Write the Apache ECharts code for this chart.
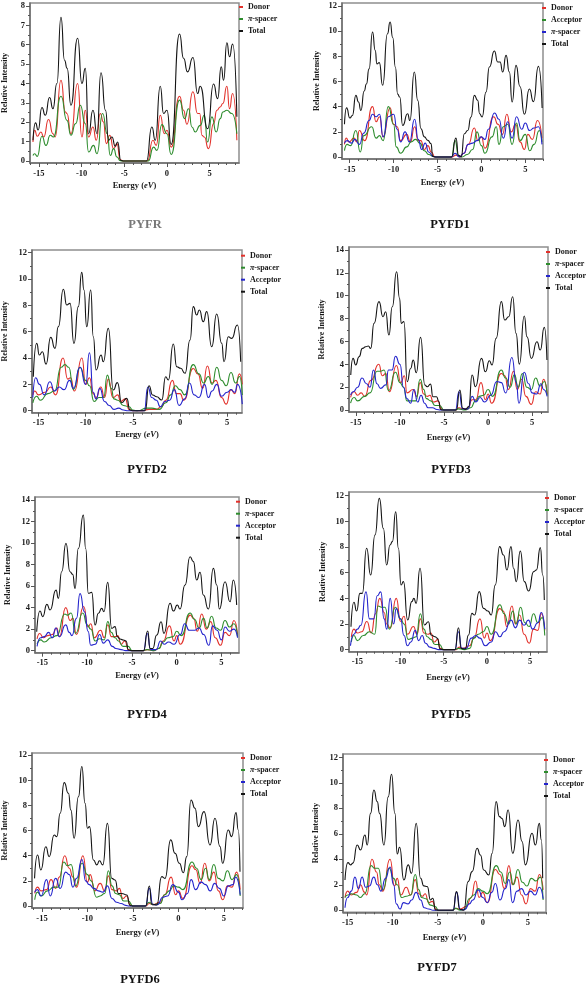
<!DOCTYPE html>
<html><head><meta charset="utf-8">
<script src="https://cdn.jsdelivr.net/npm/echarts@6/dist/echarts.min.js"></script>
<style>html,body{margin:0;padding:0;background:#fff}#c{width:587px;height:987px}</style>
</head><body><div id="c"></div><script>
// ---------- DATA (energy eV, relative intensity) ----------
const panelTitles = ['PYFR','PYFD1','PYFD2','PYFD3','PYFD4','PYFD5','PYFD6','PYFD7'];
const xTicks = [-15,-10,-5,0,5];
const xMinorTicks = [-16,-14,-13,-12,-11,-9,-8,-7,-6,-4,-3,-2,-1,1,2,3,4,6,7,8];
const yTicks8 = [0,1,2,3,4,5,6,7,8];
const yTicks12 = [0,2,4,6,8,10,12];
const yTicks14 = [0,2,4,6,8,10,12,14];

const PYFR_total = [[-15.7,1.07],[-15.4,1.97],[-15.1,1.6],[-14.65,2.76],[-14.26,2.36],[-13.75,3.28],[-13.36,2.7],[-12.9,4.0],[-12.42,7.41],[-12.0,5.2],[-11.7,4.78],[-11.25,2.88],[-10.47,6.33],[-9.96,4.0],[-9.57,4.78],[-9.18,1.41],[-8.67,2.62],[-8.2,1.41],[-7.73,4.55],[-7.2,2.62],[-6.84,1.07],[-6.45,1.24],[-6.05,0.76],[-5.78,0.98],[-5.4,0.03],[-5.0,0],[-2.4,0],[-1.76,1.76],[-1.37,1.07],[-0.78,3.86],[-0.39,2.45],[0,2.62],[0.5,0.86],[1.48,6.55],[1.95,5.3],[2.42,4.6],[3.05,5.34],[3.6,3.48],[3.9,3.86],[4.77,1.67],[5.47,3.97],[5.94,3.22],[6.37,4.86],[6.64,4.17],[7.03,6.1],[7.34,5.38],[7.7,6.03],[8.2,2.28]];
const PYFR_donor = [[-15.7,0.98],[-15.5,1.59],[-15.2,1.28],[-14.77,1.5],[-14.45,1.24],[-13.87,2.14],[-13.36,1.41],[-13.1,1.24],[-12.42,4.17],[-11.9,2.53],[-11.72,2.45],[-11.25,1.41],[-10.47,4.0],[-9.96,1.24],[-9.57,2.62],[-9.18,1.24],[-8.67,1.76],[-8.28,1.07],[-7.81,2.45],[-7.45,2.02],[-7.1,0.9],[-6.7,1.33],[-6.25,0.64],[-5.86,0.9],[-5.47,0.07],[-5.1,0],[-2.3,0],[-1.64,1.07],[-1.25,0.81],[-0.78,2.36],[-0.3,1.41],[0,1.59],[0.5,0.72],[1.48,3.34],[1.95,2.62],[2.34,1.9],[3.05,3.57],[3.6,2.45],[3.85,2.45],[4.1,1.33],[4.38,1.24],[4.88,0.64],[5.47,1.93],[5.86,2.62],[6.25,2.79],[6.56,2.97],[7.03,3.86],[7.34,2.7],[7.7,3.48],[8.2,1.07]];
const PYFR_spacer = [[-15.7,0.29],[-15.5,0.38],[-15.2,0.24],[-14.65,1.28],[-14.18,0.81],[-13.67,1.33],[-13.3,1.24],[-12.42,3.34],[-11.72,2.1],[-11.25,1.33],[-10.7,1.93],[-10.16,2.88],[-9.57,1.93],[-9.18,0.47],[-8.6,0.81],[-8.2,0.38],[-7.54,2.45],[-7.0,1.41],[-6.64,0.29],[-6.25,0.64],[-5.86,0.21],[-5.47,0.02],[-5.1,0],[-2.2,0],[-1.56,0.72],[-1.17,0.55],[-0.59,1.88],[0,1.41],[0.5,0.34],[1.48,3.14],[2.07,2.19],[2.54,2.7],[2.93,1.76],[3.32,1.5],[3.9,1.84],[4.38,2.36],[4.77,0.98],[5.27,2.28],[5.78,1.5],[6.25,2.19],[6.56,2.53],[7.03,2.62],[7.6,2.45],[8.2,1.41]];

const PYFD1_total = [[-15.6,2.6],[-15.36,3.9],[-14.98,3.1],[-14.7,3.3],[-14.3,4.9],[-14.0,4.37],[-13.73,3.7],[-13.35,5.24],[-13.1,5.8],[-12.8,7.0],[-12.4,9.93],[-12.1,8.48],[-11.9,7.4],[-11.63,7.5],[-11.25,5.7],[-10.7,9.8],[-10.4,10.73],[-10.1,9.5],[-9.8,7.15],[-9.54,5.0],[-9.3,4.77],[-8.97,2.5],[-8.4,3.44],[-8.15,2.9],[-7.64,6.75],[-7.25,4.5],[-6.88,2.25],[-6.5,1.6],[-6.1,1.32],[-5.74,1.06],[-5.55,0.05],[-5.2,0],[-3.4,0],[-2.9,1.5],[-2.6,0.13],[-2.3,0],[-1.94,1.85],[-1.56,2.1],[-1.18,3.18],[-0.8,4.9],[-0.42,4.5],[-0.2,3.44],[0.08,3.18],[0.53,5.17],[0.91,7.15],[1.48,8.42],[1.86,7.55],[2.13,7.55],[2.43,6.75],[2.81,8.08],[3.19,6.75],[3.5,4.37],[3.95,7.28],[4.4,5.6],[4.9,3.4],[5.47,5.4],[5.93,4.4],[6.5,7.2],[6.92,3.9]];
const PYFD1_donor = [[-15.6,1.0],[-15.4,1.5],[-15.1,1.2],[-14.5,1.5],[-14.2,1.2],[-13.9,2.1],[-13.3,1.3],[-12.4,4.0],[-12.0,2.8],[-11.6,3.2],[-11.2,1.6],[-10.4,3.9],[-10.0,2.6],[-9.6,2.4],[-9.2,1.3],[-8.5,1.8],[-8.1,1.2],[-7.6,2.4],[-7.2,1.3],[-6.9,1.3],[-6.5,0.6],[-6.1,0.9],[-5.7,0.4],[-5.3,0],[-3.3,0],[-2.9,0.15],[-2.5,0],[-2.0,0.3],[-1.5,1.0],[-0.8,2.3],[-0.4,1.3],[0,1.6],[0.4,0.7],[1.4,3.2],[1.9,2.6],[2.4,1.8],[2.9,3.4],[3.4,2.0],[3.9,2.6],[4.4,1.2],[4.9,0.6],[5.3,1.8],[5.8,1.4],[6.4,2.9],[6.9,1.5]];
const PYFD1_acceptor = [[-15.6,0.5],[-15.3,1.0],[-14.9,0.9],[-14.3,2.1],[-13.8,0.4],[-13.4,1.7],[-12.5,2.4],[-12.0,1.5],[-11.6,1.7],[-11.2,1.3],[-10.6,4.0],[-10.0,2.6],[-9.7,0.8],[-9.2,0.3],[-8.5,0.8],[-8.0,1.2],[-7.5,1.4],[-7.0,1.1],[-6.5,0.5],[-6.0,0.2],[-5.5,0.05],[-5.0,0],[-3.4,0],[-3.0,1.3],[-2.6,0.1],[-2.2,0],[-1.6,0.2],[-1.0,0.6],[-0.5,2.0],[0,0.9],[0.4,0.3],[1.2,1.6],[1.7,2.4],[2.0,1.0],[2.5,2.4],[3.0,2.6],[3.5,1.0],[4.0,2.7],[4.4,1.3],[5.0,1.8],[5.5,0.5],[6.0,1.0],[6.6,2.1],[6.9,1.2]];
const PYFD1_spacer = [[-15.6,1.1],[-15.3,1.3],[-14.8,1.1],[-14.4,1.4],[-13.9,1.0],[-13.4,1.9],[-12.8,2.9],[-12.4,3.4],[-12.0,3.2],[-11.6,3.4],[-11.2,1.6],[-10.6,3.2],[-10.0,3.4],[-9.6,2.2],[-9.2,1.2],[-8.7,2.0],[-8.2,1.2],[-7.6,3.0],[-7.2,1.4],[-6.8,0.6],[-6.4,1.1],[-6.0,0.4],[-5.5,0.05],[-5.1,0],[-3.4,0],[-3.0,0.3],[-2.5,0],[-2.0,0.3],[-1.5,1.0],[-1.0,1.1],[-0.5,1.3],[0,1.6],[0.4,1.4],[0.8,2.2],[1.5,3.5],[2.0,3.0],[2.5,1.5],[3.0,2.8],[3.5,1.5],[4.0,3.2],[4.6,2.2],[5.0,2.7],[5.5,2.1],[6.0,2.3],[6.5,2.4],[6.9,1.0]];

const PYFD2_total = [[-15.55,2.58],[-15.19,5.11],[-14.91,4.23],[-14.59,4.48],[-14.2,3.54],[-13.71,5.57],[-13.25,4.73],[-12.9,6.38],[-12.37,9.22],[-12.01,8.03],[-11.66,8.15],[-11.24,5.11],[-10.78,7.9],[-10.42,10.5],[-10.18,9.16],[-9.89,6.38],[-9.47,9.16],[-9.19,5.62],[-8.9,3.09],[-8.37,4.23],[-8.13,3.72],[-7.6,6.25],[-7.07,1.57],[-6.64,2.13],[-6.18,0.61],[-5.65,0.94],[-5.3,0.05],[-5.0,0],[-3.7,0],[-3.29,1.9],[-2.9,1.19],[-2.47,1.06],[-1.94,0.81],[-1.52,2.58],[-1.24,2.33],[-0.71,5.06],[-0.35,3.34],[0.07,3.22],[0.53,2.84],[1.06,5.37],[1.41,7.9],[1.77,7.27],[2.05,7.65],[2.47,6.76],[2.83,7.52],[3.36,4.86],[3.89,7.34],[4.42,5.11],[4.66,3.72],[5.12,5.62],[5.48,5.49],[6.08,6.51],[6.43,3.72]];
const PYFD2_donor = [[-15.6,1.2],[-15.4,1.5],[-15.0,1.2],[-14.3,1.4],[-13.7,1.8],[-13.2,1.2],[-12.4,4.0],[-11.9,2.4],[-11.6,2.5],[-11.2,1.5],[-10.4,4.0],[-10.0,2.0],[-9.6,2.5],[-9.2,1.3],[-8.9,1.0],[-8.4,1.8],[-8.0,1.0],[-7.6,2.4],[-7.1,1.0],[-6.6,1.2],[-6.3,0.7],[-5.8,0.9],[-5.4,0.1],[-5.0,0],[-4.0,0],[-3.3,0.1],[-2.5,0.1],[-2.0,0.3],[-1.5,0.8],[-0.8,2.3],[-0.4,1.3],[0,1.3],[0.4,0.8],[1.4,3.2],[1.9,2.8],[2.4,1.7],[2.9,3.4],[3.4,2.1],[3.8,2.3],[4.4,1.0],[4.9,0.5],[5.4,1.6],[5.8,1.3],[6.3,2.8],[6.6,2.0]];
const PYFD2_spacer = [[-15.6,0.6],[-15.2,1.1],[-14.8,0.8],[-14.0,1.3],[-13.3,1.5],[-12.6,3.3],[-12.2,3.5],[-11.8,3.3],[-11.3,1.6],[-10.6,3.3],[-10.0,2.3],[-9.6,1.9],[-9.1,0.7],[-8.6,1.0],[-8.1,1.0],[-7.7,2.7],[-7.3,1.7],[-7.0,0.9],[-6.6,0.8],[-6.0,0.4],[-5.4,0.3],[-5.0,0.05],[-4.5,0],[-3.5,0.2],[-3.0,0.2],[-2.2,0.1],[-1.5,0.6],[-1.0,1.2],[-0.5,1.9],[0,1.6],[0.5,1.2],[1.4,3.5],[2.0,2.8],[2.5,2.1],[3.0,2.6],[3.4,2.0],[3.9,3.3],[4.4,2.3],[4.9,1.9],[5.4,2.9],[5.9,2.1],[6.3,2.6],[6.6,1.2]];
const PYFD2_acceptor = [[-15.6,1.0],[-15.3,2.5],[-14.9,2.0],[-14.4,1.2],[-13.8,2.2],[-13.3,1.5],[-12.8,1.8],[-12.3,1.6],[-11.7,2.3],[-11.3,1.7],[-10.6,3.3],[-10.0,2.0],[-9.6,4.4],[-9.2,1.4],[-8.9,0.9],[-8.5,1.7],[-8.0,0.7],[-7.5,0.4],[-7.0,0.1],[-6.5,0.2],[-6.0,0.05],[-5.5,0],[-3.8,0],[-3.4,1.8],[-3.0,1.0],[-2.5,0.8],[-2.1,0.3],[-1.6,0.7],[-1.1,0.8],[-0.6,1.6],[-0.1,0.4],[0.5,0.9],[1.0,2.1],[1.5,1.2],[2.0,1.0],[2.6,2.0],[3.0,1.0],[3.4,1.5],[3.9,2.0],[4.4,1.1],[5.0,1.4],[5.4,1.6],[5.8,1.4],[6.1,2.0],[6.6,0.5]];

const PYFD3_total = [[-15.58,3.06],[-15.32,4.52],[-15.02,3.94],[-14.64,4.66],[-14.26,5.39],[-13.89,5.54],[-13.58,5.6],[-13.32,5.39],[-12.94,7.58],[-12.38,9.48],[-11.92,8.16],[-11.62,8.6],[-11.25,6.56],[-10.87,9.04],[-10.38,12.1],[-10.04,9.77],[-9.85,7.58],[-9.55,7.73],[-9.17,2.48],[-8.79,3.64],[-8.49,4.37],[-8.15,3.27],[-7.66,6.36],[-7.17,2.19],[-6.91,2.04],[-6.53,2.27],[-6.26,1.17],[-5.85,1.17],[-5.58,0.73],[-5.4,0.06],[-5.2,0],[-3.6,0],[-3.21,1.75],[-2.87,0.15],[-2.57,0.06],[-2.19,0.3],[-1.81,3.06],[-1.43,2.04],[-0.75,4.52],[-0.3,3.35],[0.15,4.31],[0.45,3.94],[0.91,6.27],[1.51,9.48],[1.89,7.87],[2.34,8.16],[2.79,9.91],[3.17,6.71],[3.55,4.02],[4.11,8.22],[4.42,6.41],[4.91,4.52],[5.55,5.98],[5.92,5.25],[6.38,7.23],[6.68,4.37]];
const PYFD3_donor = [[-15.6,1.1],[-15.2,1.6],[-14.8,1.3],[-14.4,1.5],[-14.0,1.2],[-13.3,2.6],[-12.4,4.0],[-12.0,3.0],[-11.6,3.2],[-11.2,1.6],[-10.4,3.9],[-9.9,2.4],[-9.5,3.0],[-9.2,1.5],[-8.5,1.8],[-8.1,1.2],[-7.7,2.4],[-7.3,1.4],[-6.9,1.2],[-6.6,1.3],[-6.2,0.7],[-5.7,0.8],[-5.3,0.1],[-5.0,0],[-3.7,0],[-3.3,0.2],[-2.8,0.1],[-2.3,0.1],[-1.8,0.9],[-1.4,0.9],[-0.8,2.4],[-0.3,0.9],[0,1.4],[0.4,0.6],[1.5,3.2],[1.9,3.0],[2.3,1.8],[2.9,3.4],[3.3,1.8],[3.8,2.7],[4.3,1.2],[4.9,0.5],[5.4,1.6],[5.9,1.4],[6.3,2.7],[6.7,1.4]];
const PYFD3_spacer = [[-15.6,0.6],[-15.2,1.1],[-14.8,0.8],[-14.0,1.2],[-13.4,1.5],[-12.6,3.4],[-12.2,3.4],[-11.8,3.5],[-11.3,1.7],[-10.5,3.3],[-10.0,2.4],[-9.6,2.0],[-9.2,0.8],[-8.7,0.8],[-8.2,0.8],[-7.7,2.7],[-7.3,1.8],[-7.0,1.0],[-6.5,0.8],[-6.0,0.4],[-5.5,0.4],[-5.0,0],[-3.8,0],[-3.4,0.1],[-2.6,0],[-2.0,0.2],[-1.4,0.8],[-1.0,1.2],[-0.5,1.3],[0,1.8],[0.5,1.2],[1.5,3.5],[2.0,2.8],[2.5,2.0],[3.0,3.1],[3.4,2.0],[3.9,3.2],[4.4,2.0],[4.9,1.8],[5.4,2.8],[5.9,2.1],[6.4,2.5],[6.7,1.3]];
const PYFD3_acceptor = [[-15.6,1.3],[-15.3,1.6],[-14.8,2.0],[-14.3,2.8],[-13.8,2.3],[-13.4,2.0],[-13.0,3.5],[-12.6,2.3],[-12.2,1.9],[-11.6,2.2],[-11.3,3.5],[-10.9,3.5],[-10.5,4.7],[-10.0,4.0],[-9.6,2.0],[-9.2,1.0],[-8.8,0.6],[-8.4,1.8],[-8.0,0.7],[-7.6,1.3],[-7.2,0.6],[-6.8,0.2],[-6.3,0.2],[-5.8,0.05],[-5.4,0],[-3.7,0],[-3.3,1.6],[-2.9,0.1],[-2.3,0.1],[-1.8,1.2],[-1.4,0.7],[-0.9,1.1],[-0.4,0.7],[0.3,1.3],[1.0,2.5],[1.5,2.4],[2.0,1.5],[2.7,4.6],[3.2,2.4],[3.5,0.6],[4.1,3.3],[4.6,2.3],[5.0,1.5],[5.5,1.4],[6.0,2.3],[6.3,1.8],[6.7,1.2]];

const PYFD4_total = [[-15.64,1.76],[-15.27,3.68],[-14.97,3.16],[-14.5,4.3],[-14.15,3.78],[-13.48,5.63],[-13.22,4.86],[-12.85,7.34],[-12.37,9.97],[-11.92,7.34],[-11.62,7.09],[-11.36,5.79],[-10.99,9.5],[-10.43,12.6],[-10.17,9.5],[-9.87,5.33],[-9.5,5.42],[-9.12,2.38],[-8.75,3.47],[-8.38,3.93],[-8.12,3.62],[-7.71,6.35],[-7.26,2.07],[-6.89,2.23],[-6.63,1.3],[-6.33,1.08],[-5.96,0.99],[-5.66,0.9],[-5.4,0.06],[-5.1,0],[-3.7,0],[-3.24,1.83],[-2.98,0.2],[-2.68,0.2],[-2.23,1.45],[-1.75,2.69],[-1.42,1.61],[-0.74,4.4],[-0.37,3.68],[0.07,4.24],[0.37,3.87],[0.93,6.1],[1.49,8.73],[1.86,8.27],[2.23,6.56],[2.61,7.28],[2.98,5.17],[3.54,3.87],[4.1,7.65],[4.47,6.1],[4.77,3.87],[5.4,6.41],[5.96,4.55],[6.33,6.56],[6.7,4.24]];
const PYFD4_donor = [[-15.6,1.1],[-15.3,1.6],[-14.9,1.2],[-14.4,1.4],[-13.9,1.5],[-13.4,2.1],[-13.1,1.3],[-12.4,4.0],[-11.9,2.8],[-11.6,3.0],[-11.2,1.5],[-10.4,4.1],[-9.9,2.2],[-9.6,2.5],[-9.2,1.2],[-8.5,1.9],[-8.1,1.2],[-7.7,2.4],[-7.3,1.3],[-6.8,1.3],[-6.6,1.4],[-6.2,0.6],[-5.8,0.9],[-5.4,0.1],[-5.0,0],[-3.7,0],[-3.3,0.1],[-2.6,0],[-2.0,0.2],[-1.5,0.9],[-0.8,2.3],[-0.3,0.9],[0,1.4],[0.4,0.6],[1.5,3.3],[1.9,3.0],[2.3,1.8],[2.8,3.4],[3.3,2.0],[3.8,2.7],[4.3,1.2],[4.9,0.5],[5.4,1.7],[5.9,1.4],[6.4,2.8],[6.8,1.5]];
const PYFD4_spacer = [[-15.6,0.6],[-15.2,1.0],[-14.8,0.8],[-14.0,1.2],[-13.4,1.4],[-12.5,3.4],[-12.2,3.3],[-11.8,3.5],[-11.3,1.6],[-10.5,3.5],[-10.0,2.4],[-9.6,2.0],[-9.1,0.9],[-8.6,1.1],[-8.1,1.0],[-7.7,2.7],[-7.3,1.7],[-6.9,1.2],[-6.5,0.9],[-6.0,0.4],[-5.4,0.4],[-5.0,0],[-3.8,0],[-3.3,0.1],[-2.6,0],[-2.0,0.2],[-1.5,0.8],[-1.0,1.2],[-0.4,1.3],[0,1.8],[0.5,1.4],[1.5,3.5],[2.0,2.9],[2.5,2.1],[3.0,3.0],[3.4,2.1],[3.9,3.2],[4.4,2.1],[4.9,1.9],[5.4,2.8],[5.9,2.2],[6.4,2.5],[6.8,1.3]];
const PYFD4_acceptor = [[-15.6,0.4],[-15.2,1.2],[-14.8,1.3],[-14.3,1.7],[-13.9,1.2],[-13.5,2.1],[-13.1,1.3],[-12.4,2.4],[-12.0,1.7],[-11.7,1.4],[-11.2,3.0],[-10.8,5.3],[-10.3,3.6],[-9.9,1.8],[-9.6,0.5],[-9.1,0.6],[-8.6,1.5],[-8.2,0.7],[-7.7,1.0],[-7.2,0.4],[-6.8,0.2],[-6.2,0.1],[-5.7,0],[-3.7,0],[-3.3,1.6],[-2.9,0.1],[-2.3,0.1],[-1.8,0.9],[-1.4,0.6],[-0.9,0.8],[-0.3,0.6],[0.4,1.5],[0.9,2.5],[1.4,1.9],[2.0,1.9],[2.5,2.1],[3.0,1.5],[3.6,0.5],[4.0,2.3],[4.5,1.9],[5.0,1.0],[5.4,2.2],[5.9,1.8],[6.4,2.0],[6.8,1.2]];

const PYFD5_total = [[-15.74,1.79],[-15.4,3.69],[-15.09,3.01],[-14.7,4.39],[-14.43,4.39],[-13.93,7.9],[-13.46,5.82],[-12.96,8.94],[-12.46,11.79],[-11.99,9.45],[-11.61,6.6],[-11.22,8.16],[-10.95,8.42],[-10.56,10.75],[-10.25,7.9],[-9.94,5.04],[-9.67,5.3],[-9.17,2.31],[-8.7,3.74],[-8.45,4.0],[-8.2,3.61],[-7.74,6.34],[-7.23,1.92],[-6.77,2.18],[-6.46,1.14],[-6.0,1.01],[-5.73,0.88],[-5.42,0.05],[-5.1,0],[-3.7,0],[-3.29,1.71],[-2.98,0.1],[-2.51,0.05],[-2.13,1.14],[-1.74,2.83],[-1.43,2.7],[-0.89,4.52],[-0.39,3.22],[0.12,3.01],[0.5,2.7],[0.97,5.04],[1.47,8.03],[1.93,7.38],[2.32,6.21],[2.79,8.03],[3.09,6.34],[3.4,5.3],[3.87,7.69],[4.33,5.3],[4.84,4.57],[5.42,6.08],[5.73,6.21],[6.19,7.95],[6.46,5.82],[6.65,3.87]];
const PYFD5_donor = [[-15.7,1.0],[-15.4,1.6],[-15.0,1.3],[-14.5,1.4],[-13.9,2.2],[-13.4,1.3],[-12.9,2.8],[-12.4,4.0],[-11.9,2.9],[-11.6,2.0],[-11.2,1.7],[-10.5,4.0],[-10.0,2.2],[-9.6,2.6],[-9.2,1.2],[-8.5,1.8],[-8.1,1.2],[-7.7,2.4],[-7.3,1.3],[-6.8,1.2],[-6.5,1.3],[-6.1,0.6],[-5.7,0.8],[-5.4,0.1],[-5.0,0],[-3.6,0],[-3.2,0.2],[-2.8,0.1],[-2.0,0.3],[-1.5,0.9],[-0.8,2.4],[-0.3,0.9],[0,1.3],[0.4,0.7],[1.5,3.2],[1.9,3.0],[2.3,1.8],[2.9,3.4],[3.3,2.0],[3.8,2.7],[4.3,1.2],[4.9,0.5],[5.4,1.6],[5.9,1.5],[6.3,2.8],[6.7,1.5]];
const PYFD5_spacer = [[-15.7,0.6],[-15.4,1.1],[-15.0,0.7],[-14.3,1.1],[-13.6,1.4],[-13.0,1.2],[-12.6,3.4],[-12.2,3.3],[-11.8,3.3],[-11.3,1.6],[-10.6,3.3],[-10.0,2.4],[-9.6,2.0],[-9.1,0.8],[-8.6,0.9],[-8.2,1.0],[-7.7,2.8],[-7.3,1.6],[-6.9,1.0],[-6.5,0.8],[-6.0,0.4],[-5.5,0.4],[-5.0,0],[-3.8,0],[-3.3,0.1],[-2.6,0],[-2.0,0.1],[-1.5,0.9],[-1.0,1.2],[-0.4,1.4],[0,1.8],[0.5,1.2],[1.5,3.5],[2.0,2.8],[2.5,2.0],[3.0,3.0],[3.4,2.0],[3.9,3.3],[4.4,2.1],[4.9,1.8],[5.4,2.8],[5.9,2.1],[6.4,2.5],[6.7,1.1]];
const PYFD5_acceptor = [[-15.8,0.3],[-15.4,1.2],[-15.0,1.6],[-14.6,1.9],[-14.0,4.5],[-13.6,2.4],[-13.1,2.4],[-12.7,4.2],[-12.3,4.5],[-11.9,2.4],[-11.6,1.6],[-11.2,4.0],[-10.8,2.0],[-10.5,3.2],[-10.0,2.4],[-9.6,1.1],[-9.2,0.3],[-8.8,0.6],[-8.3,1.5],[-7.9,0.7],[-7.5,1.1],[-7.1,0.5],[-6.6,0.2],[-6.1,0.1],[-5.6,0],[-3.7,0],[-3.3,1.4],[-2.9,0.1],[-2.4,0.1],[-1.8,0.9],[-1.3,1.1],[-0.8,0.9],[-0.2,0.3],[0.5,0.6],[1.0,1.4],[1.5,1.0],[2.0,1.4],[2.8,2.3],[3.3,1.7],[3.8,2.3],[4.3,1.9],[4.8,2.3],[5.3,1.6],[5.9,2.1],[6.3,2.9],[6.7,1.6]];

const PYFD6_total = [[-15.82,2.2],[-15.49,4.06],[-15.13,2.87],[-14.58,4.72],[-14.21,3.93],[-13.66,5.65],[-13.37,5.52],[-13.0,7.38],[-12.56,9.82],[-12.09,8.97],[-11.83,7.65],[-11.47,5.39],[-10.99,8.7],[-10.62,11.1],[-10.26,8.18],[-10.0,6.19],[-9.78,6.32],[-9.34,3.66],[-8.97,3.27],[-8.68,3.6],[-8.32,3.27],[-7.8,6.58],[-7.33,2.2],[-6.96,2.07],[-6.59,1.0],[-6.23,1.0],[-5.68,0.88],[-5.3,0.03],[-5.0,0],[-3.6,0],[-3.19,1.59],[-2.93,0.16],[-2.38,0.08],[-1.83,2.34],[-1.47,2.2],[-0.84,5.26],[-0.37,4.2],[0.11,3.4],[0.55,2.65],[0.92,3.93],[1.39,8.44],[1.83,7.78],[2.2,6.32],[2.82,7.51],[3.48,4.86],[4.03,6.98],[4.58,4.73],[4.87,3.4],[5.49,6.05],[5.86,5.52],[6.34,7.43],[6.59,6.05],[6.78,2.73]];
const PYFD6_donor = [[-15.8,1.0],[-15.5,1.5],[-15.1,1.2],[-14.5,1.3],[-14.0,2.1],[-13.5,1.4],[-13.1,2.3],[-12.5,4.0],[-12.0,3.0],[-11.6,2.3],[-11.2,1.5],[-10.5,4.0],[-10.0,1.9],[-9.7,2.5],[-9.2,1.2],[-8.6,1.8],[-8.1,1.2],[-7.7,2.4],[-7.3,1.3],[-6.8,1.2],[-6.5,1.4],[-6.1,0.6],[-5.7,0.8],[-5.3,0.1],[-5.0,0],[-3.6,0],[-3.2,0.2],[-2.8,0.1],[-2.0,0.3],[-1.5,0.9],[-0.8,2.3],[-0.3,0.9],[0,1.2],[0.5,0.6],[1.5,3.2],[1.9,2.9],[2.4,1.8],[2.9,3.4],[3.4,2.0],[3.9,2.7],[4.4,1.2],[4.9,0.5],[5.4,1.6],[5.9,1.5],[6.4,2.7],[6.8,1.3]];
const PYFD6_spacer = [[-15.8,0.5],[-15.5,1.1],[-15.1,0.8],[-14.4,1.2],[-13.7,1.5],[-13.2,1.5],[-12.6,3.5],[-12.2,3.2],[-11.8,3.3],[-11.3,1.6],[-10.6,3.4],[-10.0,2.5],[-9.6,2.0],[-9.0,0.7],[-8.6,0.8],[-8.1,1.0],[-7.7,2.8],[-7.3,1.6],[-6.9,1.0],[-6.5,0.9],[-6.0,0.4],[-5.5,0.4],[-5.0,0],[-3.7,0],[-3.2,0.3],[-2.8,0.1],[-2.0,0.2],[-1.5,0.9],[-1.0,1.2],[-0.5,1.6],[0,1.5],[0.5,1.3],[1.5,3.5],[2.0,3.0],[2.5,2.1],[3.0,3.0],[3.4,2.1],[3.9,3.3],[4.4,2.2],[4.9,2.0],[5.4,2.8],[5.9,2.1],[6.4,2.5],[6.8,0.8]];
const PYFD6_acceptor = [[-15.8,1.1],[-15.5,1.3],[-15.1,0.8],[-14.5,2.1],[-14.1,0.8],[-13.5,2.2],[-13.0,1.4],[-12.4,2.7],[-12.0,2.5],[-11.6,1.5],[-11.2,2.2],[-10.6,3.7],[-10.2,2.0],[-9.8,1.7],[-9.3,1.4],[-8.8,1.2],[-8.3,1.1],[-7.8,1.6],[-7.3,0.6],[-6.8,0.3],[-6.3,0.2],[-5.8,0.05],[-5.4,0],[-3.6,0],[-3.2,1.4],[-2.8,0.1],[-2.3,0.1],[-1.7,0.7],[-1.2,0.8],[-0.6,1.7],[0,1.1],[0.4,0.5],[1.0,1.0],[1.4,2.1],[1.9,1.3],[2.5,1.9],[3.0,1.7],[3.5,1.2],[4.0,1.8],[4.5,1.4],[5.0,0.8],[5.5,1.6],[6.0,1.7],[6.3,2.3],[6.8,0.9]];

const PYFD7_total = [[-15.3,2.38],[-14.97,3.74],[-14.68,3.56],[-14.42,3.7],[-13.94,5.12],[-13.57,4.73],[-13.09,5.9],[-12.83,5.12],[-12.46,7.6],[-12.09,9.44],[-11.72,8.52],[-11.46,7.6],[-10.98,5.12],[-10.5,8.9],[-10.13,10.67],[-9.76,7.6],[-9.5,4.42],[-9.24,4.94],[-8.76,2.38],[-8.28,3.56],[-7.91,2.9],[-7.39,6.82],[-6.91,2.51],[-6.54,1.91],[-6.17,1.86],[-5.8,0.81],[-5.55,0.94],[-5.25,0.03],[-4.9,0],[-3.3,0],[-2.92,1.46],[-2.55,0.08],[-2.1,0],[-1.63,2.25],[-1.18,3.03],[-0.63,4.86],[-0.26,4.34],[0.11,3.16],[0.67,2.77],[1.04,4.47],[1.48,8.52],[1.85,7.35],[2.14,7.2],[2.44,6.56],[2.81,7.87],[3.33,4.47],[3.92,7.08],[4.36,5.39],[4.73,3.56],[5.47,6.04],[5.84,5.12],[6.28,6.82],[6.5,5.52],[6.65,2.51]];
const PYFD7_donor = [[-15.3,1.0],[-15.0,1.5],[-14.6,1.2],[-14.0,1.4],[-13.6,2.0],[-13.1,1.4],[-12.9,1.2],[-12.3,4.0],[-11.8,3.0],[-11.5,2.0],[-11.1,1.5],[-10.3,4.0],[-9.8,1.9],[-9.5,2.5],[-9.1,1.2],[-8.5,1.8],[-8.0,1.2],[-7.5,2.4],[-7.1,1.3],[-6.7,1.1],[-6.4,1.3],[-6.0,0.6],[-5.6,0.7],[-5.2,0.1],[-4.9,0],[-3.4,0],[-3.0,0.15],[-2.5,0.1],[-1.8,0.3],[-1.3,1.0],[-0.8,2.3],[-0.4,1.0],[0,1.4],[0.5,0.6],[1.4,3.2],[1.9,2.8],[2.4,1.7],[2.9,3.5],[3.3,2.0],[3.8,2.6],[4.3,1.2],[4.8,0.5],[5.3,1.7],[5.8,1.5],[6.3,2.8],[6.7,1.6]];
const PYFD7_spacer = [[-15.3,1.0],[-15.0,1.2],[-14.6,1.3],[-14.0,1.2],[-13.6,1.0],[-13.1,1.3],[-12.4,3.5],[-12.0,3.3],[-11.6,3.3],[-11.1,1.6],[-10.4,3.3],[-9.9,2.5],[-9.5,2.0],[-9.0,1.0],[-8.5,1.1],[-8.0,1.2],[-7.5,2.8],[-7.1,1.6],[-6.8,1.0],[-6.3,0.9],[-5.8,0.4],[-5.3,0.3],[-4.9,0],[-3.4,0],[-3.0,0.15],[-2.5,0],[-2.0,0.1],[-1.5,0.9],[-1.0,1.2],[-0.5,1.7],[0,1.5],[0.5,1.3],[1.5,3.5],[2.0,3.0],[2.5,2.1],[3.0,3.0],[3.4,2.0],[3.9,3.2],[4.4,2.2],[4.9,1.9],[5.4,2.5],[5.9,2.3],[6.4,2.6],[6.7,0.8]];
const PYFD7_acceptor = [[-15.3,0.2],[-15.0,1.0],[-14.6,1.5],[-14.2,2.6],[-13.8,1.7],[-13.4,2.6],[-13.0,1.8],[-12.6,1.9],[-12.1,2.6],[-11.7,2.0],[-11.3,1.5],[-10.8,2.5],[-10.3,3.4],[-9.9,2.0],[-9.6,0.5],[-9.2,0.1],[-8.8,0.6],[-8.3,0.5],[-7.9,0.8],[-7.4,1.4],[-6.9,0.8],[-6.5,0.2],[-6.0,0.1],[-5.5,0],[-3.3,0],[-2.9,1.4],[-2.5,0.05],[-2.0,0.05],[-1.5,0.5],[-1.1,0.8],[-0.5,1.6],[0,1.0],[0.5,0.6],[1.0,1.4],[1.4,2.1],[1.9,0.8],[2.5,1.7],[2.9,2.4],[3.3,0.6],[3.8,1.5],[4.3,1.7],[4.8,1.2],[5.3,1.5],[5.8,1.2],[6.3,1.8],[6.7,0.9]];

// ---------- series membership (legend order) ----------
const panelSeries = [
  [['Donor','red',PYFR_donor],['π-spacer','green',PYFR_spacer],['Total','black',PYFR_total]],
  [['Donor','red',PYFD1_donor],['Acceptor','green',PYFD1_acceptor],['π-spacer','blue',PYFD1_spacer],['Total','black',PYFD1_total]],
  [['Donor','red',PYFD2_donor],['π-spacer','green',PYFD2_spacer],['Acceptor','blue',PYFD2_acceptor],['Total','black',PYFD2_total]],
  [['Donor','red',PYFD3_donor],['π-spacer','green',PYFD3_spacer],['Acceptor','blue',PYFD3_acceptor],['Total','black',PYFD3_total]],
  [['Donor','red',PYFD4_donor],['π-spacer','green',PYFD4_spacer],['Acceptor','blue',PYFD4_acceptor],['Total','black',PYFD4_total]],
  [['Donor','red',PYFD5_donor],['π-spacer','green',PYFD5_spacer],['Acceptor','blue',PYFD5_acceptor],['Total','black',PYFD5_total]],
  [['Donor','red',PYFD6_donor],['π-spacer','green',PYFD6_spacer],['Acceptor','blue',PYFD6_acceptor],['Total','black',PYFD6_total]],
  [['Donor','red',PYFD7_donor],['π-spacer','green',PYFD7_spacer],['Acceptor','blue',PYFD7_acceptor],['Total','black',PYFD7_total]]
];
const yTickSets = [yTicks8, yTicks12, yTicks12, yTicks14, yTicks14, yTicks12, yTicks12, yTicks12];

// ---------- layout & style ----------
const COLORS = {red:'#e2312b', green:'#2d8c2d', blue:'#2424cc', black:'#141414'};
const FONT = "'Liberation Serif','Times New Roman',serif";
const L = [
  {l:30,  t:3,   r:239, b:163,   x0:-16.05, x1:8.45, y0:-0.1,  y1:8.15,  lx:239, ly:7,     tx:145, ty:225, tc:'#777', yg:21, xg:18},
  {l:342, t:3,   r:543, b:159,   x0:-15.88, x1:7.02, y0:-0.16, y1:12.24, lx:542, ly:8,     tx:450, ty:225, tc:'#111', yg:21, xg:19},
  {l:32,  t:250, r:242, b:412.7, x0:-15.69, x1:6.57, y0:-0.15, y1:12.2,  lx:241, ly:255.7, tx:147, ty:470, tc:'#111', yg:23, xg:18},
  {l:349, t:247, r:548, b:412,   x0:-15.78, x1:6.8,  y0:-0.17, y1:14.26, lx:546, ly:252,   tx:451, ty:470, tc:'#111', yg:23, xg:21},
  {l:35,  t:497, r:239, b:652.7, x0:-15.83, x1:6.96, y0:-0.19, y1:14.28, lx:236, ly:501.7, tx:147, ty:715, tc:'#111', yg:23, xg:19},
  {l:349, t:492, r:547, b:651.7, x0:-15.97, x1:6.96, y0:-0.16, y1:12.29, lx:545, ly:498,   tx:451, ty:715, tc:'#111', yg:22, xg:22},
  {l:32,  t:753, r:243, b:908,   x0:-16.1,  x1:7.11, y0:-0.16, y1:12.18, lx:241, ly:758,   tx:140, ty:980, tc:'#111', yg:23, xg:20},
  {l:343, t:754, r:546, b:912.3, x0:-15.52, x1:7.02, y0:-0.16, y1:12.26, lx:544, ly:760,   tx:437, ty:968, tc:'#111', yg:23, xg:21}
];

const grid=[], xAxis=[], yAxis=[], series=[], legend=[], title=[];
const boldTxt = {fontFamily:FONT, fontWeight:'bold', color:'#1a1a1a'};
L.forEach((p,i)=>{
  grid.push({left:p.l, top:p.t, width:p.r-p.l, height:p.b-p.t, show:true, borderColor:'#8f8f8f', borderWidth:1.5, containLabel:false, outerBoundsMode:'none'});
  const yt = yTickSets[i];
  const step = yt[1]-yt[0];
  const yMinor = yt.slice(0,-1).map(v=>v+step/2);
  xAxis.push({type:'value', gridIndex:i, min:p.x0, max:p.x1, position:'bottom',
    axisLine:{show:true, onZero:false, lineStyle:{color:'#6e6e6e', width:1.5}},
    axisTick:{show:true, customValues:xTicks, length:4, lineStyle:{color:'#555', width:1}},
    axisLabel:{customValues:xTicks, margin:6, fontSize:8.5, ...boldTxt},
    splitLine:{show:false},
    name:'{a|Energy (}{b|eV}{a|)}', nameLocation:'middle', nameGap:p.xg,
    nameTextStyle:{rich:{a:{fontFamily:FONT, fontWeight:'bold', fontSize:8.5, color:'#1a1a1a'}, b:{fontFamily:FONT, fontWeight:'bold', fontStyle:'italic', fontSize:8.5, color:'#1a1a1a'}}}
  });
  xAxis.push({type:'value', gridIndex:i, min:p.x0, max:p.x1, position:'bottom',
    axisLine:{show:false, onZero:false}, axisLabel:{show:false}, splitLine:{show:false},
    axisTick:{show:true, customValues:xMinorTicks.filter(v=>v>p.x0&&v<p.x1), length:2, lineStyle:{color:'#555', width:1}}
  });
  yAxis.push({type:'value', gridIndex:i, min:p.y0, max:p.y1, position:'left',
    axisLine:{show:true, onZero:false, lineStyle:{color:'#6e6e6e', width:1.5}},
    axisTick:{show:true, customValues:yt, length:4, lineStyle:{color:'#555', width:1}},
    axisLabel:{customValues:yt, margin:5, fontSize:8.5, ...boldTxt},
    splitLine:{show:false},
    name:'Relative Intensity', nameLocation:'middle', nameGap:p.yg,
    nameTextStyle:{fontFamily:FONT, fontWeight:'bold', fontSize:8, color:'#1a1a1a'}
  });
  yAxis.push({type:'value', gridIndex:i, min:p.y0, max:p.y1, position:'left',
    axisLine:{show:false, onZero:false}, axisLabel:{show:false}, splitLine:{show:false},
    axisTick:{show:true, customValues:yMinor, length:2, lineStyle:{color:'#555', width:1}}
  });
  const items=[];
  panelSeries[i].forEach(([label,col,data])=>{
    const nm = label+'@'+i;
    items.push({name:nm, itemStyle:{color:COLORS[col]}});
    series.push({type:'line', name:nm, xAxisIndex:2*i, yAxisIndex:2*i, data:data,
      smooth:0.6, smoothMonotone:'x', showSymbol:false, symbol:'none',
      lineStyle:{color:COLORS[col], width:1.1}, itemStyle:{color:COLORS[col]},
      z: label==='Total'?3:2, silent:true, animation:false});
  });
  legend.push({orient:'vertical', left:p.lx, top:p.ly-6, padding:0, itemGap:0, itemWidth:4, itemHeight:2,
    icon:'rect', selectedMode:false, data:items,
    formatter:(n)=>{const s=n.split('@')[0]; return s==='π-spacer' ? '{i|π}{t|-spacer}' : '{t|'+s+'}';},
    textStyle:{fontFamily:FONT, fontWeight:'bold', fontSize:8, color:'#1a1a1a', lineHeight:12,
      rich:{t:{fontFamily:FONT, fontWeight:'bold', fontSize:8, color:'#1a1a1a', lineHeight:12},
            i:{fontFamily:FONT, fontWeight:'bold', fontStyle:'italic', fontSize:8, color:'#1a1a1a', lineHeight:12}}}
  });
  title.push({text:panelTitles[i], left:p.tx, top:p.ty-7, textAlign:'center', padding:0,
    textStyle:{fontFamily:FONT, fontWeight:'bold', fontSize:12.5, color:p.tc}});
});

const chart = echarts.init(document.getElementById('c'), null, {renderer:'canvas'});
chart.setOption({backgroundColor:'#fff', animation:false, grid, xAxis, yAxis, series, legend, title});
</script></body></html>
